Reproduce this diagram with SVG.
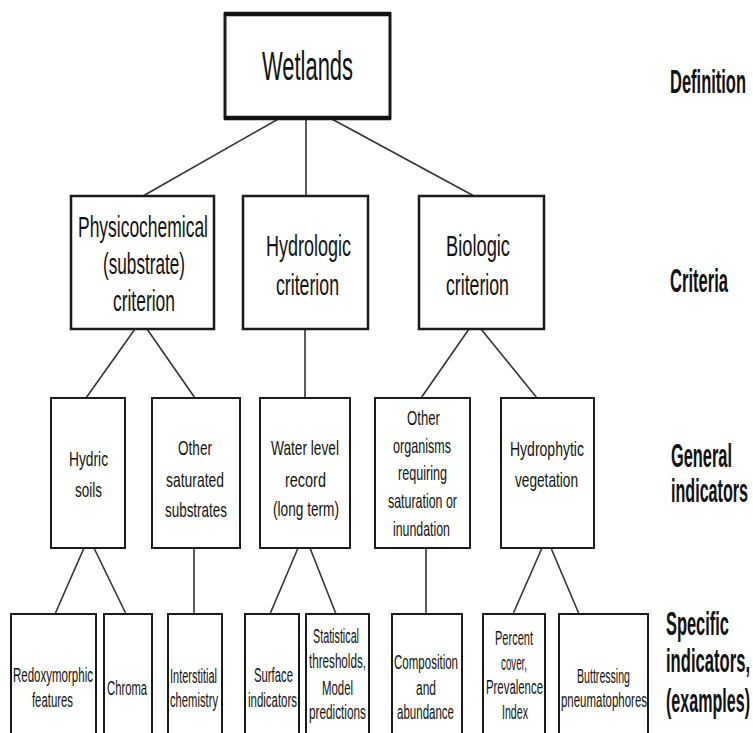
<svg xmlns="http://www.w3.org/2000/svg" width="753" height="733" viewBox="0 0 753 733">
<style>
.box{fill:#fff;stroke:#1a1a1a;stroke-width:2}
.thick{stroke:#111;stroke-width:4.5}
.con line{stroke:#333;stroke-width:1.6}
text{font-family:"Liberation Sans",Arial,sans-serif;fill:#111}
.w{font-size:40px}
.c{font-size:29px}
.g{font-size:20.5px}
.s{font-size:19.5px}
.lab{font-size:33px;font-weight:bold}
</style>
<rect width="753" height="733" fill="#fff"/>
<g class="con">
<line x1="280" y1="118" x2="143" y2="196"/>
<line x1="306" y1="118" x2="306" y2="196"/>
<line x1="330" y1="118" x2="474" y2="196"/>
<line x1="135" y1="329" x2="86" y2="398"/>
<line x1="147" y1="329" x2="195" y2="398"/>
<line x1="305" y1="329" x2="305" y2="398"/>
<line x1="469" y1="329" x2="421" y2="398"/>
<line x1="481" y1="329" x2="537" y2="398"/>
<line x1="84" y1="548" x2="55" y2="614"/>
<line x1="94" y1="548" x2="126" y2="614"/>
<line x1="194" y1="548" x2="194" y2="614"/>
<line x1="298" y1="548" x2="270" y2="614"/>
<line x1="310" y1="548" x2="336" y2="614"/>
<line x1="426" y1="548" x2="426" y2="614"/>
<line x1="542" y1="548" x2="513" y2="614"/>
<line x1="551" y1="548" x2="579" y2="614"/>
</g>
<g id="wetlands">
<rect class="box" x="225" y="14" width="165" height="104" style="stroke-width:3"/>
<line class="thick" x1="224" y1="14" x2="391" y2="14"/>
<line class="thick" x1="224" y1="118" x2="391" y2="118"/>
<g transform="scale(0.545 1)"><text class="w" x="480.7" y="80" textLength="167" lengthAdjust="spacingAndGlyphs">Wetlands</text></g>
</g>
<g id="physicochemical">
<rect class="box" x="71" y="196" width="143" height="133" style="stroke-width:2.5"/>
<g transform="scale(0.6 1)">
<text class="c" x="130" y="237" textLength="216.7" lengthAdjust="spacingAndGlyphs">Physicochemical</text>
<text class="c" x="171.7" y="274" textLength="136.7" lengthAdjust="spacingAndGlyphs">(substrate)</text>
<text class="c" x="188.3" y="311" textLength="103.3" lengthAdjust="spacingAndGlyphs">criterion</text>
</g>
</g>
<g id="hydrologic">
<rect class="box" x="243" y="196" width="125" height="133" style="stroke-width:2.5"/>
<g transform="scale(0.6 1)">
<text class="c" x="443.3" y="256" textLength="141.7" lengthAdjust="spacingAndGlyphs">Hydrologic</text>
<text class="c" x="460" y="295" textLength="105" lengthAdjust="spacingAndGlyphs">criterion</text>
</g>
</g>
<g id="biologic">
<rect class="box" x="419" y="196" width="125" height="133" style="stroke-width:2.5"/>
<g transform="scale(0.6 1)">
<text class="c" x="743.3" y="256" textLength="106.7" lengthAdjust="spacingAndGlyphs">Biologic</text>
<text class="c" x="743.3" y="295" textLength="105" lengthAdjust="spacingAndGlyphs">criterion</text>
</g>
</g>
<g id="hydric">
<rect class="box" x="51" y="398" width="74" height="150"/>
<g transform="scale(0.68 1)">
<text class="g" x="101.5" y="466" textLength="57.4" lengthAdjust="spacingAndGlyphs">Hydric</text>
<text class="g" x="110.3" y="497" textLength="39.7" lengthAdjust="spacingAndGlyphs">soils</text>
</g>
</g>
<g id="othersat">
<rect class="box" x="152" y="398" width="88" height="150"/>
<g transform="scale(0.68 1)">
<text class="g" x="261.8" y="455" textLength="50" lengthAdjust="spacingAndGlyphs">Other</text>
<text class="g" x="244.1" y="487" textLength="85.3" lengthAdjust="spacingAndGlyphs">saturated</text>
<text class="g" x="242.6" y="517" textLength="91.2" lengthAdjust="spacingAndGlyphs">substrates</text>
</g>
</g>
<g id="waterlevel">
<rect class="box" x="260" y="398" width="90" height="150"/>
<g transform="scale(0.68 1)">
<text class="g" x="398.5" y="455" textLength="100" lengthAdjust="spacingAndGlyphs">Water level</text>
<text class="g" x="419.1" y="487" textLength="60.3" lengthAdjust="spacingAndGlyphs">record</text>
<text class="g" x="401.5" y="516" textLength="97.1" lengthAdjust="spacingAndGlyphs">(long term)</text>
</g>
</g>
<g id="otherorg">
<rect class="box" x="375" y="398" width="95" height="150"/>
<g transform="scale(0.68 1)">
<text class="g" x="598.5" y="425" textLength="48.5" lengthAdjust="spacingAndGlyphs">Other</text>
<text class="g" x="577.9" y="453" textLength="85.3" lengthAdjust="spacingAndGlyphs">organisms</text>
<text class="g" x="585.3" y="480" textLength="72.1" lengthAdjust="spacingAndGlyphs">requiring</text>
<text class="g" x="570.6" y="508" textLength="101.5" lengthAdjust="spacingAndGlyphs">saturation or</text>
<text class="g" x="577.9" y="536" textLength="83.8" lengthAdjust="spacingAndGlyphs">inundation</text>
</g>
</g>
<g id="hydrophytic">
<rect class="box" x="501" y="398" width="93" height="150"/>
<g transform="scale(0.68 1)">
<text class="g" x="750" y="456" textLength="108.8" lengthAdjust="spacingAndGlyphs">Hydrophytic</text>
<text class="g" x="757.4" y="487" textLength="92.6" lengthAdjust="spacingAndGlyphs">vegetation</text>
</g>
</g>
<g id="redox">
<rect class="box" x="11" y="614" width="85" height="130"/>
<g transform="scale(0.59 1)">
<text class="s" x="22" y="682" textLength="135.6" lengthAdjust="spacingAndGlyphs">Redoxymorphic</text>
<text class="s" x="54.2" y="707" textLength="69.5" lengthAdjust="spacingAndGlyphs">features</text>
</g>
</g>
<g id="chroma">
<rect class="box" x="104" y="614" width="48" height="130"/>
<g transform="scale(0.59 1)">
<text class="s" x="181.4" y="695" textLength="67.8" lengthAdjust="spacingAndGlyphs">Chroma</text>
</g>
</g>
<g id="interstitial">
<rect class="box" x="168" y="614" width="54" height="130"/>
<g transform="scale(0.59 1)">
<text class="s" x="288.1" y="683" textLength="79.7" lengthAdjust="spacingAndGlyphs">Interstitial</text>
<text class="s" x="288.1" y="707" textLength="81.4" lengthAdjust="spacingAndGlyphs">chemistry</text>
</g>
</g>
<g id="surface">
<rect class="box" x="245" y="614" width="54" height="130"/>
<g transform="scale(0.59 1)">
<text class="s" x="430.5" y="682" textLength="66.1" lengthAdjust="spacingAndGlyphs">Surface</text>
<text class="s" x="420.3" y="707" textLength="83.1" lengthAdjust="spacingAndGlyphs">indicators</text>
</g>
</g>
<g id="statistical">
<rect class="box" x="306" y="614" width="63" height="130"/>
<g transform="scale(0.59 1)">
<text class="s" x="530.5" y="643" textLength="78" lengthAdjust="spacingAndGlyphs">Statistical</text>
<text class="s" x="523.7" y="668" textLength="96.6" lengthAdjust="spacingAndGlyphs">thresholds,</text>
<text class="s" x="545.8" y="695" textLength="52.5" lengthAdjust="spacingAndGlyphs">Model</text>
<text class="s" x="523.7" y="719" textLength="96.6" lengthAdjust="spacingAndGlyphs">predictions</text>
</g>
</g>
<g id="composition">
<rect class="box" x="392" y="614" width="70" height="130"/>
<g transform="scale(0.59 1)">
<text class="s" x="667.8" y="669" textLength="108.5" lengthAdjust="spacingAndGlyphs">Composition</text>
<text class="s" x="705.1" y="695" textLength="33.9" lengthAdjust="spacingAndGlyphs">and</text>
<text class="s" x="672.9" y="719" textLength="96.6" lengthAdjust="spacingAndGlyphs">abundance</text>
</g>
</g>
<g id="percent">
<rect class="box" x="483" y="614" width="62" height="130"/>
<g transform="scale(0.59 1)">
<text class="s" x="839" y="645" textLength="64.4" lengthAdjust="spacingAndGlyphs">Percent</text>
<text class="s" x="849.2" y="670" textLength="44.1" lengthAdjust="spacingAndGlyphs">cover,</text>
<text class="s" x="823.7" y="694" textLength="96.6" lengthAdjust="spacingAndGlyphs">Prevalence</text>
<text class="s" x="850.8" y="719" textLength="44.1" lengthAdjust="spacingAndGlyphs">Index</text>
</g>
</g>
<g id="buttressing">
<rect class="box" x="559" y="614" width="89" height="130"/>
<g transform="scale(0.59 1)">
<text class="s" x="978" y="683" textLength="89.8" lengthAdjust="spacingAndGlyphs">Buttressing</text>
<text class="s" x="950.8" y="707" textLength="145.8" lengthAdjust="spacingAndGlyphs">pneumatophores</text>
</g>
</g>
<g id="levels" transform="scale(0.5 1)">
<text class="lab" x="1340" y="93" textLength="152" lengthAdjust="spacingAndGlyphs">Definition</text>
<text class="lab" x="1340" y="292" textLength="116" lengthAdjust="spacingAndGlyphs">Criteria</text>
<text class="lab" x="1342" y="467" textLength="122" lengthAdjust="spacingAndGlyphs">General</text>
<text class="lab" x="1342" y="502" textLength="154" lengthAdjust="spacingAndGlyphs">indicators</text>
<text class="lab" x="1332" y="635" textLength="126" lengthAdjust="spacingAndGlyphs">Specific</text>
<text class="lab" x="1332" y="672" textLength="168" lengthAdjust="spacingAndGlyphs">indicators,</text>
<text class="lab" x="1332" y="712" textLength="168" lengthAdjust="spacingAndGlyphs">(examples)</text>
</g>
</svg>
